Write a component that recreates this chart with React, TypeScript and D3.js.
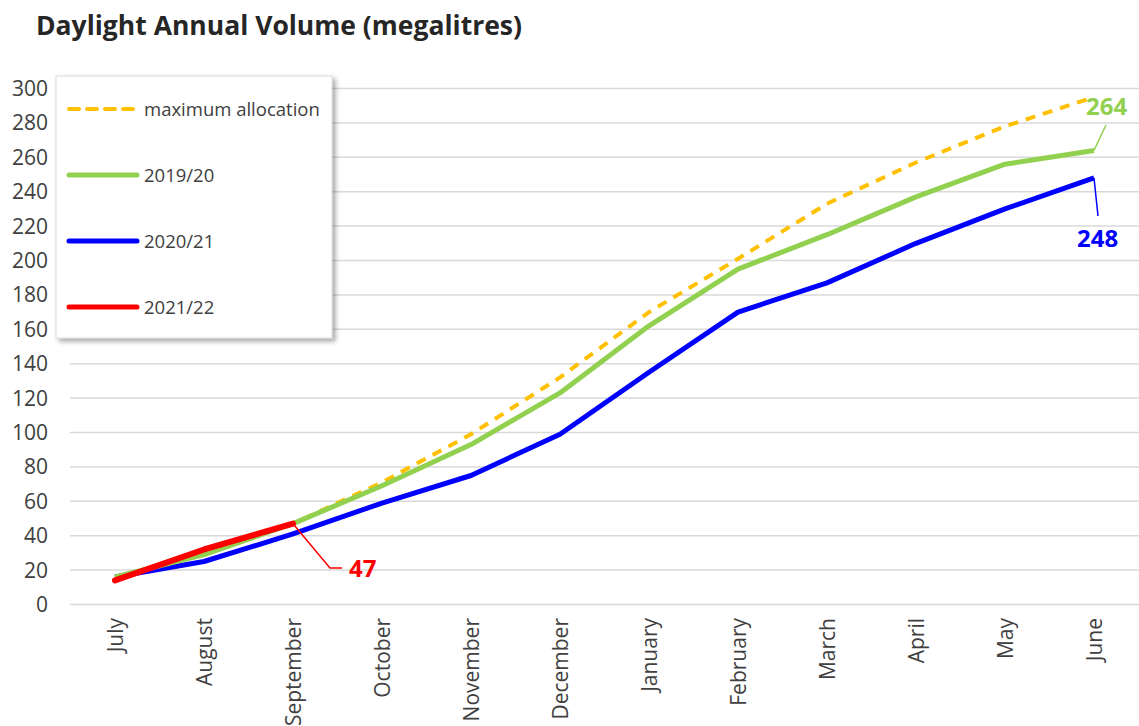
import React from "react";
import * as d3 from "d3";

const months = ["July","August","September","October","November","December","January","February","March","April","May","June"];
const maxAllocation = [15, 30, 47, 71, 99, 132, 170, 201, 233, 257, 278, 295];
const s2019 = [16, 29, 47, 69, 93, 123, 162, 195, 215, 237, 256, 264];
const s2020 = [16, 25, 41, 59, 75, 99, 135, 170, 187, 210, 230, 248];
const s2021 = [14, 32, 47];
const yTicks = [0,20,40,60,80,100,120,140,160,180,200,220,240,260,280,300];

const W = 1139, H = 726;
const FONT = "'Open Sans', Lato, sans-serif";

export default function App() {
  const x = d3.scaleBand<string>().domain(months).range([70.5, 1138.5]);
  const xc = (i: number) => (x(months[i]) as number) + x.bandwidth() / 2;
  const y = d3.scaleLinear().domain([0, 300]).range([604.5, 88.5]);
  const line = d3.line<number>().x((_, i) => xc(i)).y((d) => y(d));

  const legend = [
    { label: "maximum allocation", color: "#FFC000", dash: "10,8", w: 4 },
    { label: "2019/20", color: "#92D050", dash: null, w: 5 },
    { label: "2020/21", color: "#0000FF", dash: null, w: 5 },
    { label: "2021/22", color: "#FF0000", dash: null, w: 5 },
  ];
  const legendY = [109, 175, 241, 307];

  return (
    <svg width={W} height={H} style={{ position: "absolute", left: 0, top: 0, background: "#fff" }}>
      <defs>
        <filter id="sh" x="-10%" y="-10%" width="130%" height="130%">
          <feDropShadow dx="3" dy="3" stdDeviation="2.5" floodColor="#000" floodOpacity="0.35" />
        </filter>
      </defs>
      <rect width={W} height={H} fill="#fff" />
      <text x={36} y={35} fontFamily={FONT} fontWeight="bold" fontSize={26.5} fill="#262626">
        Daylight Annual Volume (megalitres)
      </text>
      {yTicks.map((t) => (
        <g key={t}>
          <line x1={70} x2={1139} y1={y(t)} y2={y(t)} stroke="#d9d9d9" strokeWidth={1.5} />
          <text x={48} y={y(t) + 7.5} textAnchor="end" fontFamily={FONT} fontSize={21} fill="#404040">{t}</text>
        </g>
      ))}
      {months.map((m, i) => (
        <text key={m} transform={`translate(${xc(i) + 8},618) rotate(-90)`} textAnchor="end" fontFamily={FONT} fontSize={21} fill="#404040">{m}</text>
      ))}
      <path d={line(s2020) || ""} fill="none" stroke="#0000FF" strokeWidth={5} strokeLinejoin="round" />
      <path d={line(maxAllocation) || ""} fill="none" stroke="#FFC000" strokeWidth={4} strokeDasharray="10,8" />
      <path d={line(s2019) || ""} fill="none" stroke="#92D050" strokeWidth={5} strokeLinejoin="round" />
      <path d={line(s2021) || ""} fill="none" stroke="#FF0000" strokeWidth={6} strokeLinejoin="round" strokeLinecap="round" />

      {/* data labels */}
      <polyline points={`${xc(2)},${y(s2021[2])} ${xc(2) + 37},568 ${xc(2) + 49},568`} fill="none" stroke="#FF0000" strokeWidth={1.5} />
      <text x={349} y={577} fontFamily={FONT} fontWeight="bold" fontSize={24} fill="#FF0000">{s2021[2]}</text>
      <line x1={xc(11)} y1={y(s2019[11])} x2={xc(11) + 12} y2={125} stroke="#92D050" strokeWidth={1.5} />
      <text x={1086} y={115} fontFamily={FONT} fontWeight="bold" fontSize={24} fill="#92D050">{s2019[11]}</text>
      <line x1={xc(11)} y1={y(s2020[11])} x2={xc(11) + 4} y2={216} stroke="#0000FF" strokeWidth={1.5} />
      <text x={1077} y={247} fontFamily={FONT} fontWeight="bold" fontSize={24} fill="#0000FF">{s2020[11]}</text>

      {/* legend */}
      <rect x={56} y={76} width={276} height={262} fill="#fff" stroke="#d9d9d9" strokeWidth={1} filter="url(#sh)" />
      {legend.map((l, i) => (
        <g key={l.label}>
          <line x1={69} x2={137} y1={legendY[i]} y2={legendY[i]} stroke={l.color} strokeWidth={l.w}
            strokeDasharray={l.dash || undefined} strokeLinecap="round" />
          <text x={144} y={legendY[i] + 6.5} fontFamily={FONT} fontSize={18.5} fill="#404040">{l.label}</text>
        </g>
      ))}
    </svg>
  );
}
